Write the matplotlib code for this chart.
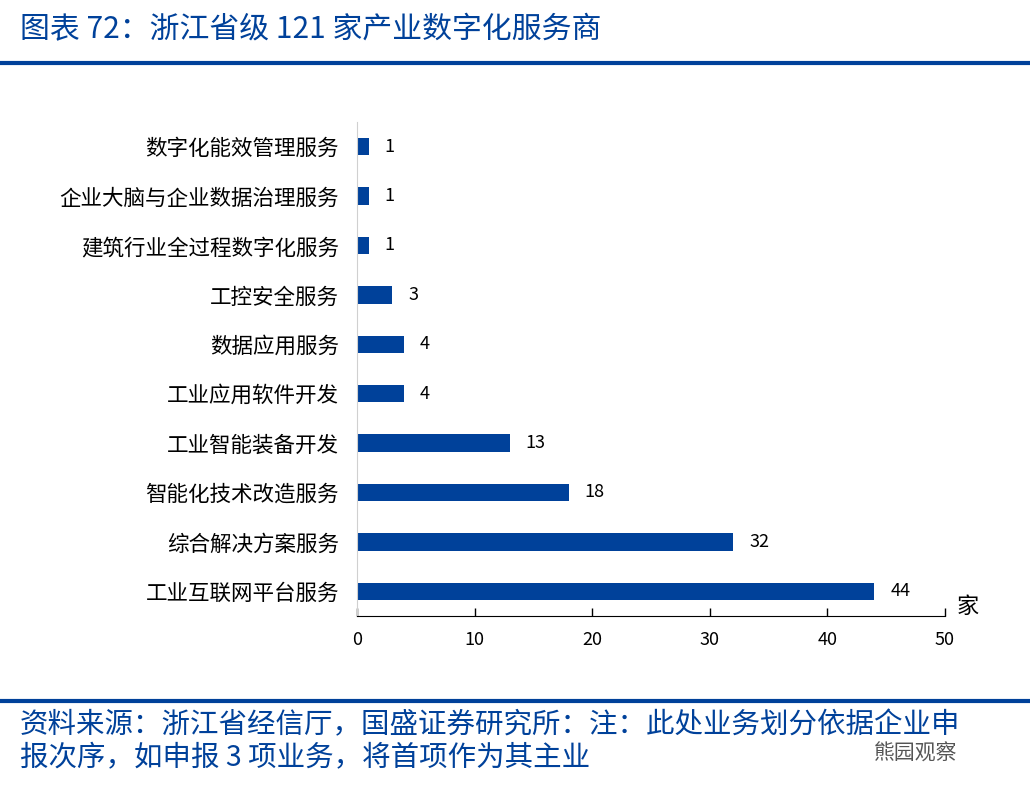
import matplotlib.pyplot as plt
from matplotlib.lines import Line2D

plt.rcParams['font.family'] = ['Noto Sans CJK SC', 'DejaVu Sans']

categories = ['工业互联网平台服务', '综合解决方案服务', '智能化技术改造服务', '工业智能装备开发',
              '工业应用软件开发', '数据应用服务', '工控安全服务', '建筑行业全过程数字化服务',
              '企业大脑与企业数据治理服务', '数字化能效管理服务']
counts = [44, 32, 18, 13, 4, 4, 3, 1, 1, 1]
xticks = [0, 10, 20, 30, 40, 50]

blue = '#00419a'

fig = plt.figure(figsize=(10.3, 7.9), dpi=100)
ax = fig.add_axes([0.3466, 0.2203, 0.5709, 0.6253])

pos = range(len(categories))
ax.barh(pos, counts, height=0.35, color=blue)
for p, v in zip(pos, counts):
    ax.text(v + 1.35, p, str(v), va='center', ha='left', fontsize=13, color='black')

ax.set_xlim(0, 50)
ax.set_ylim(-0.5, len(categories) - 0.5)
ax.set_yticks(list(pos))
ax.set_yticklabels(categories, fontsize=15.5)
ax.set_xticks(xticks)
ax.set_xticklabels([str(t) for t in xticks], fontsize=13)
ax.tick_params(axis='y', length=0, pad=13)
ax.tick_params(axis='x', direction='in', length=6, width=1, pad=11)
for s in ['top', 'right']:
    ax.spines[s].set_visible(False)
ax.spines['left'].set_color('#d0d0d0')
ax.spines['bottom'].set_color('black')
ax.text(51.0, -0.3, '家', fontsize=16, va='center', ha='left')

# title and rules
fig.text(0.019, 0.962, '图表 72：浙江省级 121 家产业数字化服务商', fontsize=21.5, color=blue,
         style='italic', va='center', ha='left')
fig.add_artist(Line2D([0, 1], [0.920, 0.920], color=blue, lw=3))
fig.add_artist(Line2D([0, 1], [0.113, 0.113], color=blue, lw=3))

fig.text(0.019, 0.082, '资料来源：浙江省经信厅，国盛证券研究所：注：此处业务划分依据企业申',
         fontsize=20.5, color=blue, style='italic', va='center', ha='left')
fig.text(0.019, 0.040, '报次序，如申报 3 项业务，将首项作为其主业',
         fontsize=20.5, color=blue, style='italic', va='center', ha='left')
fig.text(0.848, 0.046, '熊园观察', fontsize=15, color='#555555', va='center', ha='left')

fig.savefig('out.png', dpi=100)
